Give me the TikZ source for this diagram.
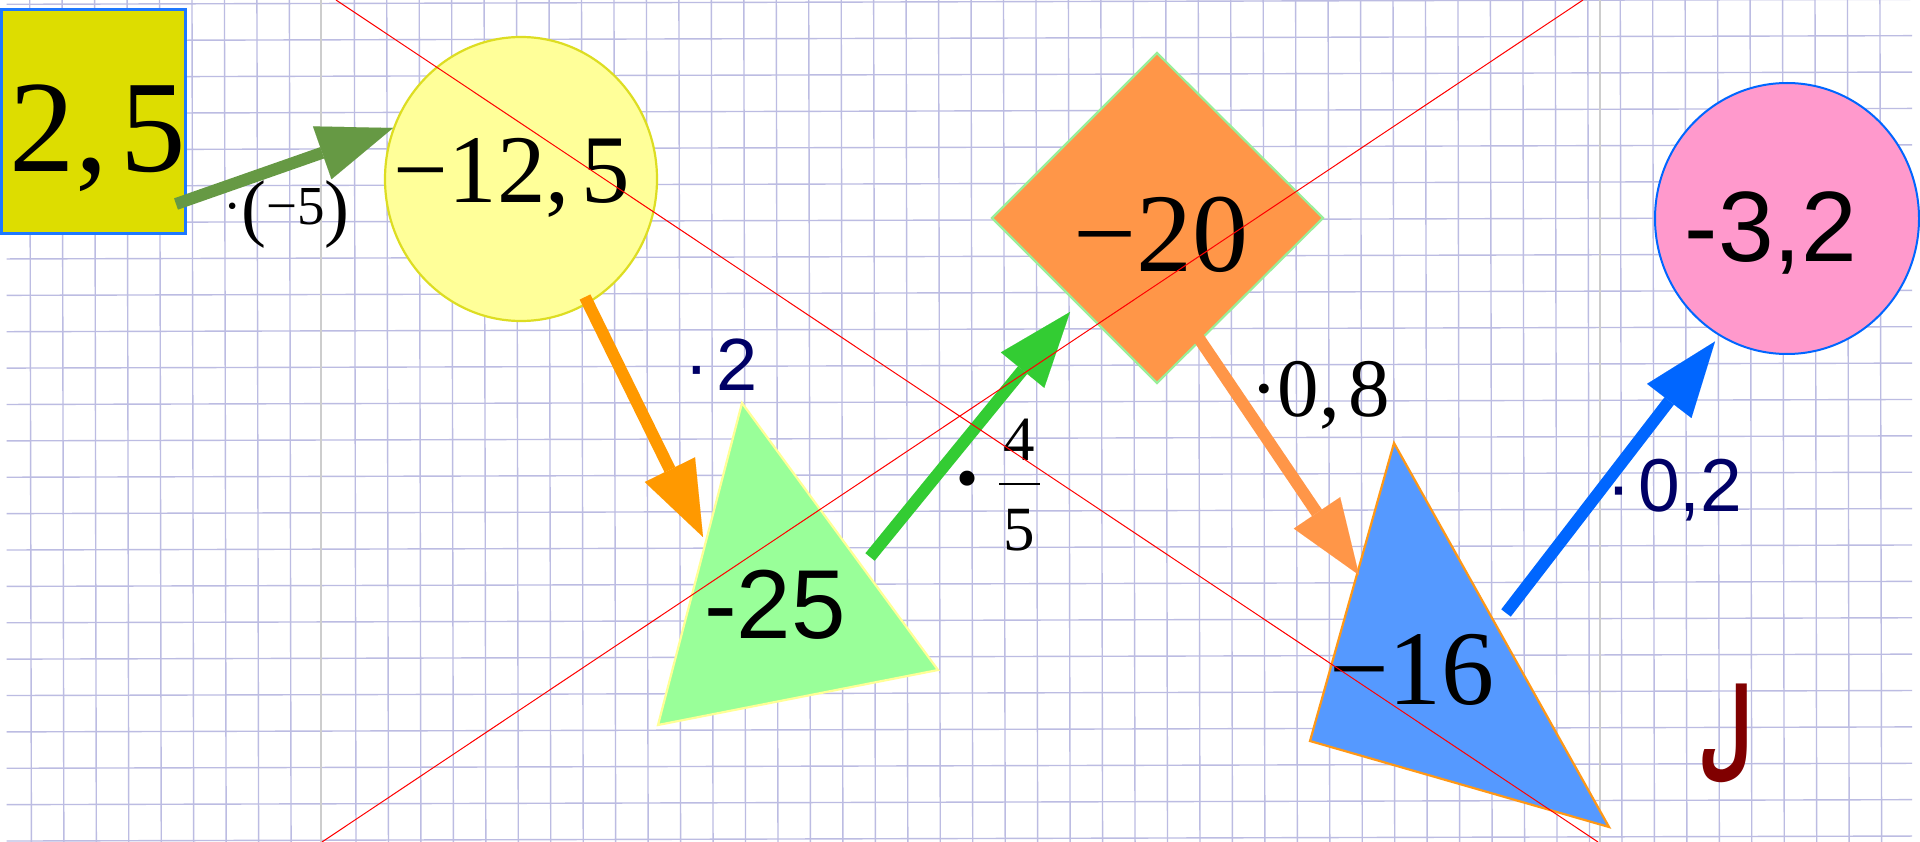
\documentclass[tikz,border=0pt]{standalone}
\usepackage{fontspec}
\setmainfont{Liberation Serif}
\newfontfamily\sansf{Liberation Sans}
\newfontfamily\arabicfont[Script=Arabic]{DejaVu Sans}
\TeXXeTstate=1
\usetikzlibrary{arrows.meta}
\definecolor{gridc}{RGB}{188,188,226}
\definecolor{greyl}{RGB}{205,205,205}
\definecolor{boxfill}{RGB}{221,221,0}
\definecolor{boxline}{RGB}{30,120,255}
\definecolor{ycirc}{RGB}{255,255,153}
\definecolor{ycircline}{RGB}{221,221,34}
\definecolor{olivearr}{RGB}{102,153,68}
\definecolor{orarr}{RGB}{255,153,0}
\definecolor{gtri}{RGB}{153,255,153}
\definecolor{gtriline}{RGB}{255,255,150}
\definecolor{garr}{RGB}{51,204,51}
\definecolor{diam}{RGB}{255,150,72}
\definecolor{diamline}{RGB}{153,238,153}
\definecolor{btri}{RGB}{85,153,255}
\definecolor{barr}{RGB}{0,102,255}
\definecolor{pinkc}{RGB}{255,153,204}
\definecolor{navyc}{RGB}{0,0,102}
\definecolor{glyphc}{RGB}{128,0,0}
\begin{document}
\begin{tikzpicture}[x=1pt,y=-1pt,
  gridline/.style={draw=gridc,line width=1.4pt},
  greyline/.style={draw=greyl,line width=2.4pt},
  redline/.style={draw=red,line width=1pt},
  arr/.style={line width=12pt,-{Triangle[length=75pt,width=56pt,line width=0.01pt]}},
  lbl/.style={inner sep=0pt,outer sep=0pt},
  serifbig/.style={lbl,anchor=base,text=black}
]
\useasboundingbox (0,0) rectangle (1920,842);
\fill[white] (0,0) rectangle (1920,842);
% grid paper
\foreach \k in {0,...,57}{\ifnum\k=9 \else \draw[gridline] ({29.7+32.46*\k},0) -- ({31.4+32.46*\k},842);\fi}
\foreach \k in {0,...,23}{\draw[gridline] (6.7,{4.3+36.38*\k}) -- (1912,{-0.7+36.38*\k});}
\draw[greyline] (321,0) -- (321,842);
\draw[greyline] (1600,0) -- (1600,842);
% shapes
\draw[draw=boxline,fill=boxfill,line width=3pt] (1.5,9.5) rectangle (185.5,233.5);
\draw[draw=ycircline,fill=ycirc,line width=2.2pt] (521,179) ellipse [x radius=136,y radius=142];
\draw[draw=gtriline,fill=gtri,line width=2.2pt,line join=miter] (742,403) -- (938,670) -- (658,725) -- cycle;
\draw[draw=diamline,fill=diam,line width=2.2pt] (1157,53) -- (1323,218) -- (1157,383) -- (992,218) -- cycle;
\draw[draw=orarr!70!diam,fill=btri,line width=2.2pt] (1394,443) -- (1609,827) -- (1310,741) -- cycle;
\draw[draw=barr,fill=pinkc,line width=2pt] (1787,218.5) ellipse [x radius=132,y radius=135.5];
% texts in shapes
\node[serifbig,font=\fontsize{131}{131}\selectfont] (t1) at (98,172) {2,\hspace{0.1em}5};
\node[serifbig,font=\fontsize{97}{97}\selectfont] (t2) at (512,203) {−12,\hspace{0.12em}5};
\node[lbl,anchor=base,font=\sansf\fontsize{98}{98}\selectfont] (t3) at (775,638) {-25};
\node[serifbig,font=\fontsize{112}{112}\selectfont] (t4) at (1161,272) {−20};
\node[serifbig,font=\fontsize{106}{106}\selectfont] (t5) at (1412,704) {−16};
\node[lbl,anchor=base,font=\sansf\fontsize{100}{100}\selectfont] (t6) at (1771,262) {-3,2};
% connectors
\coordinate (a1s) at (176,204); \coordinate (a1e) at (393,128);
\coordinate (a2s) at (585,297); \coordinate (a2e) at (703,537);
\coordinate (a3s) at (870,557); \coordinate (a3e) at (1070,312);
\coordinate (a4s) at (1198,337); \coordinate (a4e) at (1359,575);
\coordinate (a5s) at (1506,613); \coordinate (a5e) at (1715,341.5);
\draw[arr,olivearr] (a1s) -- (a1e);
\draw[arr,orarr] (a2s) -- (a2e);
\draw[arr,garr] (a3s) -- (a3e);
\draw[arr,diam] (a4s) -- (a4e);
\draw[arr,barr] (a5s) -- (a5e);
% operator labels
\node[lbl,anchor=base west,font=\fontsize{55}{55}\selectfont] (l1) at (223,225)
  {·\raisebox{-0.13em}{\scalebox{1.36}{(}}−5\raisebox{-0.13em}{\scalebox{1.36}{)}}};
\node[lbl,anchor=base west,text=navyc,font=\sansf\fontsize{74}{74}\selectfont] (l2) at (684,390) {·\hspace{0.1em}2};
\node[lbl,anchor=base west,font=\fontsize{63}{63}\selectfont] (l3) at (956,499)
  {•\hspace{21pt}\raisebox{-51pt}{\vbox{\hbox to 41pt{\hss4\hss}\kern21.8pt\hrule height 2.4pt\kern23.8pt\hbox to 41pt{\hss5\hss}}}};
\node[serifbig,font=\fontsize{83}{83}\selectfont] (l4) at (1320,416) {·0,\hspace{0.1em}8};
\node[lbl,anchor=base west,text=navyc,font=\sansf\fontsize{75}{75}\selectfont] (l5) at (1606.6,511) {·\hspace{0.09em}0,2};
% mark
\node[lbl,text=glyphc,font=\arabicfont\bfseries\fontsize{95}{95}\selectfont] (g) at (1726,735) {\scalebox{0.66}[1.13]{\beginR ل\endR}};
% red crossing lines
\draw[redline] (336,0) -- (1598,842);
\draw[redline] (322,842) -- (1583,0);
\end{tikzpicture}
\end{document}
